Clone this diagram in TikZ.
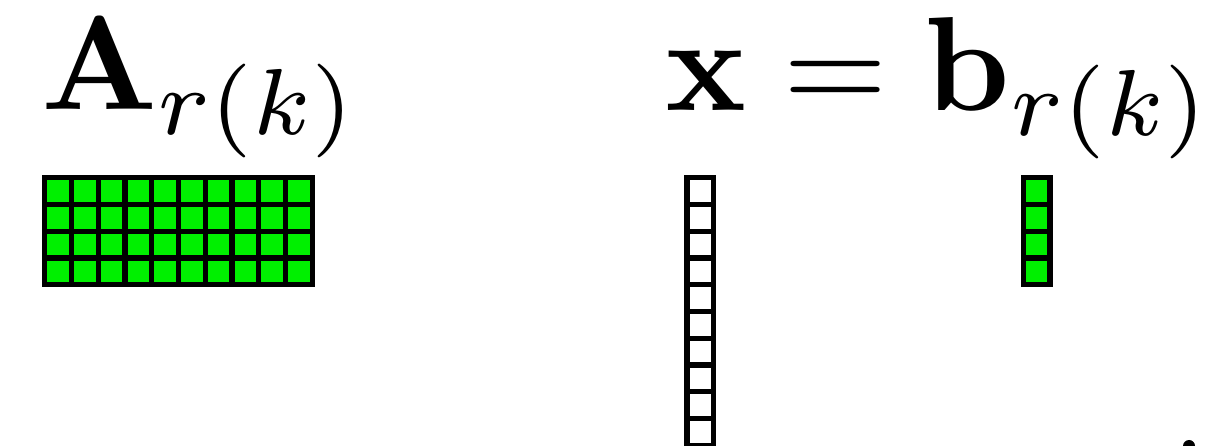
\documentclass[tikz,border=0pt]{standalone}
\definecolor{cellgreen}{RGB}{0,240,0}
\tikzset{
  cell/.style={draw=black, line width=5.3, fill=cellgreen},
  wcell/.style={draw=black, line width=5.3, fill=white},
  lbl/.style={inner sep=0pt, outer sep=0pt, scale=13.45, anchor=base west}
}
\begin{document}
\begin{tikzpicture}[x=1bp,y=-1bp]
\useasboundingbox (0,0) rectangle (1210,446);
% labels
\node[lbl] (lA) at (41,110) {$\mathbf{A}_{r(k)}$};
\node[lbl] (lxb) at (665,111) {$\mathbf{x}=\mathbf{b}_{r(k)}$};
% matrix A: 10 columns x 4 rows
\foreach \i in {0,...,9}{
  \foreach \j in {0,...,3}{
    \draw[cell] ({44.65+26.75*\i},{177.65+26.75*\j}) rectangle ++(26.75,26.75);
  }
}
% vector x: 1 column x 10 rows
\foreach \j in {0,...,9}{
  \draw[wcell] (686.95,{177.65+26.75*\j}) rectangle ++(26.75,26.75);
}
% vector b: 1 column x 4 rows
\foreach \j in {0,...,3}{
  \draw[cell] (1023.35,{177.65+26.75*\j}) rectangle ++(26.75,26.75);
}
% trailing dot
\fill (1189,446) circle (6);
\end{tikzpicture}
\end{document}
